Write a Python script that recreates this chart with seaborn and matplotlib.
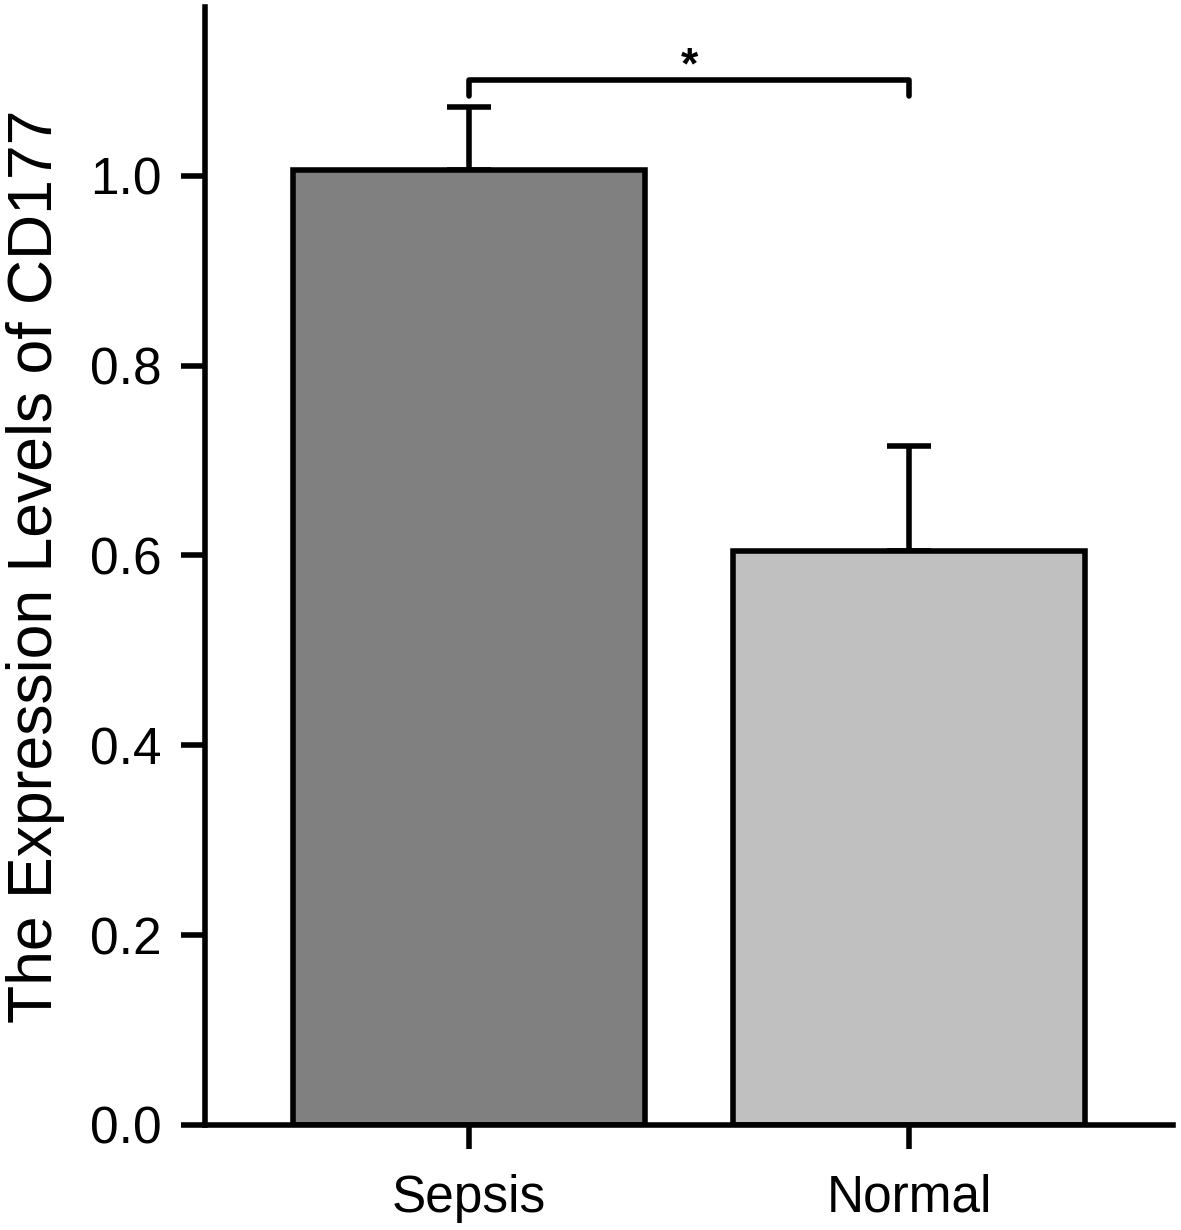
import matplotlib
matplotlib.use("Agg")
import matplotlib.pyplot as plt
import seaborn as sns
import pandas as pd

# Data
groups = ["Sepsis", "Normal"]
means = [1.006, 0.605]
upper_err = [0.066, 0.110]
bar_colors = ["#808080", "#c0c0c0"]
y_ticks = [0.0, 0.2, 0.4, 0.6, 0.8, 1.0]
bracket_y = 1.101
bracket_leg = 1.084
sig_label = "*"

sns.set_style("ticks")
plt.rcParams["font.family"] = ["Liberation Sans", "DejaVu Sans"]

df = pd.DataFrame({"group": groups, "mean": means, "err": upper_err})

fig = plt.figure(figsize=(11.81, 12.30), dpi=100)
ax = fig.add_axes([0.1736, 0.0854, 0.8197, 0.909])

lw = 4.0
sns.barplot(data=df, x="group", y="mean", hue="group", palette=bar_colors,
            legend=False, width=0.8, edgecolor="black", linewidth=lw,
            errorbar=None, ax=ax, zorder=2)

# upper error bars only
ax.errorbar(range(len(groups)), df["mean"], yerr=[[0, 0], df["err"]],
            fmt="none", ecolor="black", elinewidth=lw, capsize=15.5,
            capthick=lw, zorder=1)

# significance bracket
ax.plot([0, 0, 1, 1], [bracket_leg, bracket_y, bracket_y, bracket_leg],
        color="black", lw=lw, solid_capstyle="round", solid_joinstyle="round",
        clip_on=False)
ax.text(0.5, bracket_y - 0.008, sig_label, ha="center", va="bottom",
        fontsize=32, fontweight="bold", color="black")

ax.set_xlim(-0.6, 1.6)
ax.set_ylim(0, 1.178)
ax.set_yticks(y_ticks)
ax.set_yticklabels([f"{v:.1f}" for v in y_ticks])
ax.set_xlabel("")
ax.set_ylabel("The Expression Levels of CD177", fontsize=45, labelpad=18,
              color="black")

sns.despine(ax=ax)
for side in ["left", "bottom"]:
    ax.spines[side].set_linewidth(lw)
    ax.spines[side].set_color("black")
ax.tick_params(axis="both", width=lw, length=17, labelsize=37, pad=14,
               color="black", labelcolor="black")
ax.tick_params(axis="x", pad=18)

fig.savefig("out.png", dpi=100)
